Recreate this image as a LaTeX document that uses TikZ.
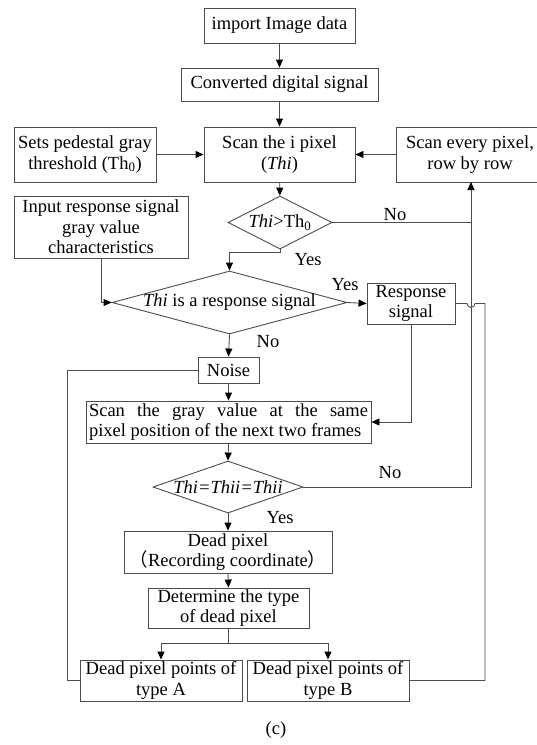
\documentclass[tikz,border=0pt]{standalone}
\usepackage{fontspec}
\setmainfont{Liberation Serif}
\newfontfamily\cjkfont{Noto Sans CJK SC}
\usetikzlibrary{shapes,arrows,arrows.meta}

\begin{document}
\begin{tikzpicture}[x=1pt,y=-1pt,
        font=\fontsize{18.5}{20.5}\selectfont,
        box/.style 2 args={rectangle,draw=black!70,line width=0.9pt,minimum width=#1,minimum height=#2,inner sep=0pt,align=center},
        decision/.style 2 args={diamond,draw=black!70,line width=0.9pt,minimum width=#1,minimum height=#2,inner sep=0pt,aspect=3},
        flow/.style={draw=black!70,line width=0.9pt},
        arrowflow/.style={flow,-{Triangle[length=8pt,width=7pt,color=black]}},
        tag/.style={inner sep=0pt}]
        \useasboundingbox (0,0) rectangle (536,745);

        % Main column TextBoxes
        \node[box={151}{35}] (import) at (279.5,25.5) {import Image data};
        \node[box={197}{33}] (convert) at (279.5,84.5) {Converted digital signal};
        \node[box={151}{55}] (scani) at (279.5,154.5) {Scan the i pixel\\(\textit{Thi})};
        \node[box={142}{55}] (pedestal) at (85,154.5) {Sets pedestal gray\\threshold (Th\textsubscript{0})};
        \node[box={170}{55}] (scanrow) at (481,154.5) {Scan every pixel,\hspace*{22pt}\\row by row\hspace*{22pt}};
        \node[box={174}{62}] (input) at (101,227) {Input response signal\\gray value\\characteristics};

        % Decisions
        \node[decision={104}{53}] (thres) at (280,222.5) {\makebox[0pt]{\textit{Thi}>Th\textsubscript{0}}};
        \node[decision={235}{63}] (isresp) at (229.5,302.5) {\makebox[0pt]{\textit{Thi} is a response signal}};
        \node[box={88}{41}] (resp) at (411,303.5) {Response\\signal};
        \node[box={61}{26}] (noise) at (228.5,370) {Noise};
        \node[box={285}{42},text width=279pt,align=justify] (scangray) at (228.5,422) {Scan the gray value at the same\linebreak pixel position of the next two frames};
        \node[decision={150}{52}] (same) at (228,487) {\makebox[0pt]{\textit{Thi=Thii=Thii}}};

        % Dead pixel TextBoxes
        \node[box={208}{42}] (dead) at (228,552) {Dead pixel\\{\cjkfont （}Recording coordinate{\cjkfont ）}};
        \node[box={161}{40}] (determine) at (228.5,608) {Determine the type\\of dead pixel};
        \node[box={162}{41}] (typea) at (161,680.5) {Dead pixel points of\\type A};
        \node[box={162}{41}] (typeb) at (328,680.5) {Dead pixel points of\\type B};

        % Helper points for the loops
        \coordinate (branch) at (228.5,643);
        \coordinate (loopl) at (67,370);
        \coordinate (loopr) at (485,303.5);
        \coordinate (hop) at (471,303.5);
        \coordinate (up) at (471,182);

        % Connectors
        \draw[arrowflow] (import) -- (convert);
        \draw[arrowflow] (convert) -- (scani);
        \draw[arrowflow] (pedestal) -- (scani);
        \draw[arrowflow] (scanrow.west |- scani.east) -- (scani.east);
        \draw[arrowflow] (scani) -- (thres);
        \draw[flow] (thres.east) -- (thres.east -| up);
        \draw[arrowflow] (same.east) -| (up);
        \draw[arrowflow] (thres.south) -- ++(0,3) -| (isresp.north);
        \draw[arrowflow] (input.south) |- (isresp.west);
        \draw[arrowflow] (isresp.east) -- (resp.west);
        \draw[arrowflow] (isresp.south) -- (noise.north);
        \draw[arrowflow] (noise.south) -- (scangray.north);
        \draw[arrowflow] (resp.south) |- (scangray.east);
        \draw[arrowflow] (scangray.south) -- (same.north);
        \draw[arrowflow] (same.south) -- (dead.north);
        \draw[arrowflow] (dead.south) -- (determine.north);
        \draw[flow] (determine.south) -- (branch);
        \draw[arrowflow] (branch) -| (typea.north);
        \draw[arrowflow] (branch) -| (typeb.north);
        \draw[flow] (noise.west) -- (loopl) |- (typea.west);
        \draw[flow] (resp.east) -- ([xshift=-4pt]hop) arc[start angle=180,end angle=360,radius=4pt] -- (loopr) |- (typeb.east);

        % Yes / No labels
        \node[tag] (no1) at (395,215) {No};
        \node[tag] (yes1) at (308,260) {Yes};
        \node[tag] (yes2) at (345,285) {Yes};
        \node[tag] (no2) at (268,342) {No};
        \node[tag] (no3) at (390,473) {No};
        \node[tag] (yes3) at (280,518) {Yes};

        % Caption
        \node[tag] (caption) at (276,730) {(c)};
    \end{tikzpicture}
\end{document}
